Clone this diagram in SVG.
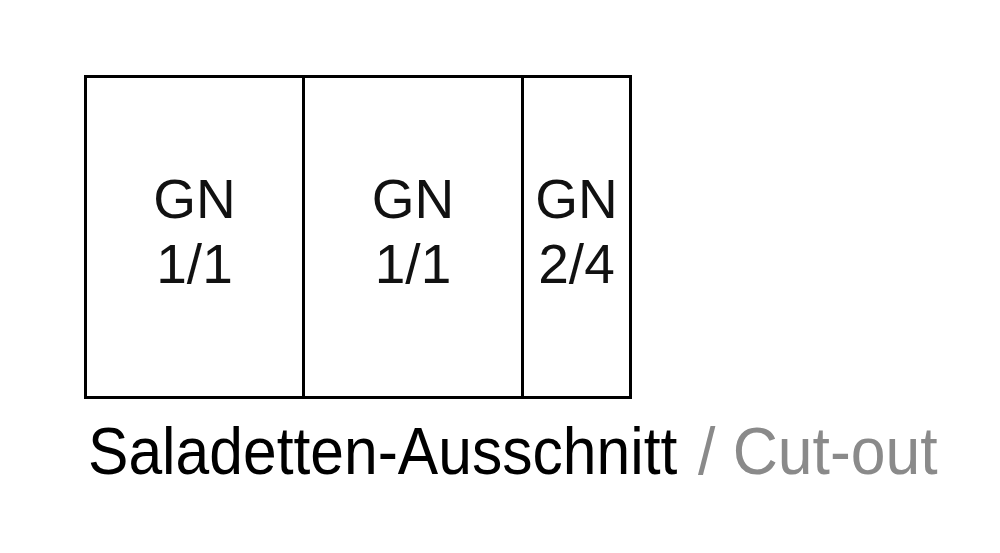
<svg xmlns="http://www.w3.org/2000/svg" width="1000" height="553" viewBox="0 0 1000 553">
<style>
.box{fill:#fff;stroke:#000;stroke-width:3}
.lbl{font-family:"Liberation Sans",Arial,sans-serif;font-size:55px;fill:#111;text-anchor:middle}
.cap{font-family:"Liberation Sans",Arial,sans-serif;font-size:66px}
</style>
<rect width="1000" height="553" fill="#fff"/>
<g id="node-gn1">
<rect class="box" x="85.5" y="76.5" width="218" height="321"/>
<text class="lbl" x="194.5" y="218">GN</text>
<text class="lbl" x="194.5" y="283">1/1</text>
</g>
<g id="node-gn2">
<rect class="box" x="303.5" y="76.5" width="219" height="321"/>
<text class="lbl" x="413" y="218">GN</text>
<text class="lbl" x="413" y="283">1/1</text>
</g>
<g id="node-gn3">
<rect class="box" x="522.5" y="76.5" width="108" height="321"/>
<text class="lbl" x="576.5" y="218">GN</text>
<text class="lbl" x="576.5" y="283">2/4</text>
</g>
<g id="connectors"></g>
<g id="caption">
<text class="cap" transform="translate(88,474) scale(0.918,1)" x="0" y="0" fill="#000">Saladetten-Ausschnitt</text>
<text class="cap" transform="translate(698,474) scale(0.947,1)" x="0" y="0" fill="#8a8a8a">/ Cut-out</text>
</g>
</svg>
